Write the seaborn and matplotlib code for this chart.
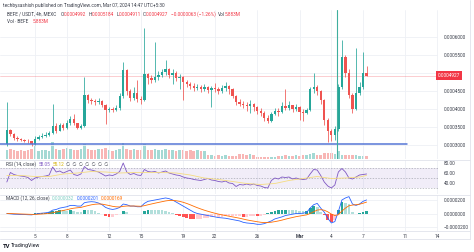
import numpy as np
import pandas as pd
import matplotlib
matplotlib.use("Agg")
import matplotlib.pyplot as plt
import matplotlib.dates as mdates
import matplotlib.transforms as mtransforms
from matplotlib.lines import Line2D
import seaborn as sns

# ---------------- data (prices in units of 1e-4 USDT) ----------------
start_time = "2024-02-02 08:00"
open0_e4 = 3.02
close_e4 = [3.42, 3.30, 3.20, 3.16, 3.14, 3.12, 3.10, 3.02, 3.16, 3.22,
            3.26, 3.28, 3.32, 3.52, 3.40, 3.55, 3.48, 3.62, 3.72, 3.60,
            3.48, 3.52, 4.40, 4.25, 4.22, 4.20, 4.22, 4.12, 3.98, 4.00,
            3.98, 4.02, 4.35, 5.08, 4.50, 4.30, 4.45, 4.28, 4.25, 4.96,
            4.85, 4.80, 4.88, 4.95, 5.02, 5.10, 4.95, 5.00, 4.85, 4.88,
            4.75, 4.70, 4.65, 4.58, 4.62, 4.55, 4.60, 4.52, 4.58, 4.55,
            4.50, 4.58, 4.64, 4.55, 4.35, 4.20, 4.15, 4.10, 4.08, 4.14,
            4.05, 3.95, 3.90, 3.75, 3.68, 3.85, 3.95, 3.92, 4.08, 4.02,
            4.10, 4.00, 4.05, 3.92, 3.88, 3.96, 4.55, 4.62, 4.50, 4.25,
            3.70, 3.40, 3.28, 3.45, 4.60, 5.45, 5.00, 4.40, 4.00, 4.45,
            4.62, 4.99, 4.927]
high_e4 = [4.20, 3.45, 3.32, 3.24, 3.20, 3.18, 3.16, 3.12, 3.24, 3.28,
           3.34, 3.36, 3.40, 4.14, 3.60, 3.62, 3.60, 3.70, 3.80, 3.86,
           3.62, 3.58, 4.90, 4.42, 4.30, 4.28, 4.30, 4.25, 4.15, 4.06,
           4.05, 4.10, 4.45, 5.30, 5.10, 4.55, 4.62, 4.80, 4.35, 6.25,
           5.00, 4.95, 5.86, 5.05, 5.12, 5.36, 5.15, 5.10, 5.05, 4.98,
           4.92, 4.80, 4.76, 4.72, 4.70, 4.66, 4.70, 4.64, 4.65, 4.72,
           4.62, 4.66, 4.74, 4.68, 4.58, 4.40, 4.28, 4.22, 4.20, 4.24,
           4.18, 4.08, 4.02, 3.95, 3.82, 3.92, 4.02, 4.02, 4.20, 4.55,
           4.22, 4.12, 4.14, 4.08, 4.00, 4.04, 4.62, 5.00, 4.66, 4.52,
           4.28, 3.75, 3.45, 3.52, 4.70, 5.92, 5.50, 5.10, 4.45, 5.70,
           4.75, 5.58, 5.184]
low_e4 = [2.98, 3.25, 3.15, 3.12, 3.10, 3.08, 3.05, 2.96, 3.00, 3.14,
          3.20, 3.22, 3.25, 3.30, 3.34, 3.38, 3.42, 3.45, 3.56, 3.55,
          3.44, 3.45, 3.50, 4.18, 4.15, 4.12, 4.14, 4.05, 3.58, 3.92,
          3.92, 3.95, 3.98, 4.30, 4.40, 4.22, 4.25, 4.20, 4.15, 4.22,
          4.70, 4.72, 4.75, 4.80, 4.90, 4.95, 4.85, 4.70, 4.78, 4.55,
          4.25, 4.60, 4.55, 4.50, 4.52, 4.46, 4.50, 4.45, 4.06, 4.48,
          4.42, 4.45, 4.50, 4.42, 4.30, 4.10, 4.08, 4.02, 3.95, 3.90,
          3.95, 3.86, 3.80, 3.66, 3.62, 3.64, 3.82, 3.80, 3.90, 3.96,
          3.98, 3.92, 3.94, 3.70, 3.66, 3.85, 3.94, 4.45, 4.40, 4.15,
          3.55, 3.08, 3.10, 3.15, 3.40, 4.55, 4.90, 4.30, 3.88, 3.98,
          4.38, 4.55, 4.911]
volume_m = [18, 20, 18, 16, 18, 16, 18, 20, 34, 16,
            18, 18, 16, 34, 20, 18, 20, 22, 20, 18,
            18, 20, 30, 20, 18, 18, 20, 20, 22, 18,
            16, 18, 20, 32, 20, 18, 20, 18, 18, 30,
            18, 18, 20, 18, 18, 20, 18, 18, 16, 18,
            18, 16, 18, 16, 18, 16, 16, 8, 8, 7,
            8, 7, 8, 6, 6, 6, 10, 10, 9, 10,
            8, 4, 4, 4, 5, 4, 4, 7, 7, 8,
            7, 7, 8, 7, 8, 8, 10, 12, 8, 8,
            12, 12, 12, 10, 16, 8, 8, 8, 8, 8,
            7, 7, 5.883]
rsi = [42, 61, 57, 55, 54, 53, 51, 45, 50, 52,
       53, 54, 56, 72, 62, 64, 60, 63, 66, 57,
       55, 58, 73, 67, 66, 64, 62, 58, 54, 56,
       55, 58, 63, 80, 62, 57, 59, 56, 55, 67,
       63, 62, 63, 60, 62, 64, 60, 58, 56, 55,
       52, 50, 49, 47, 46, 45, 47, 49, 46, 45,
       43, 42, 44, 40, 39, 33, 37, 36, 38, 36,
       38, 35, 34, 31, 30, 45, 50, 48, 52, 51,
       52, 48, 50, 48, 47, 48, 58, 67, 66, 55,
       42, 34, 30, 36, 62, 69, 62, 50, 48, 52,
       56, 57, 58.05]
rsi_ma_index = [0, 4, 8, 12, 16, 20, 24, 28, 32, 36, 40, 44, 48, 52,
                56, 60, 64, 68, 72, 76, 80, 84, 88, 92, 96, 100, 102]
rsi_ma = [55, 55, 53, 53, 58, 60, 63, 62, 60, 61, 61, 61, 60, 56,
          50, 47, 43, 39, 37, 39, 45, 49, 53, 49, 50, 52, 55.12]
# MACD values in units of 1e-6
macd_e6 = [0, -0.5, -1, -1.2, -1.5, -1.5, -1.8, -2, -1, 0,
           0.5, 1, 2, 5, 6, 8, 9, 10, 12, 12,
           11, 11, 16, 17, 17.5, 17, 15.5, 13, 9, 7,
           6, 7, 9, 14, 13, 11, 11, 10, 10, 15,
           18, 19, 20, 21, 22, 23, 22, 20, 17, 14,
           11, 8, 5, 2, 0, -1, -2, -3, -4, -5,
           -6, -6.5, -7, -8, -9, -10, -11, -13, -14, -14.5,
           -15, -16, -16, -15, -13, -11, -8, -6.5, -5, -3,
           -2, -1, 0, 0, 0.5, 1.5, 8, 13, 15, 8,
           2, -7, -14, -12, 3, 20, 23, 25, 14, 12,
           14, 18, 20.1]
signal_e6 = [0, 0, -0.3, -0.5, -0.7, -0.9, -1.1, -1.3, -1.3, -1.0,
             -0.7, -0.3, 0.2, 1.2, 2.2, 3.4, 4.5, 5.6, 6.9, 7.9,
             8.5, 9.0, 10.4, 11.7, 12.9, 13.7, 14.1, 13.9, 12.9, 11.8,
             10.6, 9.9, 9.7, 10.6, 11.1, 11.1, 11.1, 10.9, 10.7, 11.6,
             12.9, 14.1, 15.3, 16.4, 17.5, 18.6, 19.3, 19.4, 18.9, 18.0,
             16.6, 14.9, 12.9, 10.7, 8.6, 6.7, 4.9, 3.3, 1.8, 0.4,
             -0.9, -2.0, -3.0, -4.0, -5.0, -6.0, -7.0, -8.2, -9.4, -10.4,
             -11.3, -12.2, -13.0, -13.4, -13.3, -12.9, -12.0, -11.0, -9.8, -8.4,
             -7.1, -5.9, -4.7, -3.8, -2.9, -2.0, 0.0, 2.6, 5.1, 5.7,
             4.9, 2.5, -0.8, -3.0, -1.8, 3.5, 8.0, 11.5, 12.5, 13.0,
             13.8, 15.2, 16.9]

tick_dates = ["2024-02-05", "2024-02-08", "2024-02-12", "2024-02-15",
              "2024-02-19", "2024-02-22", "2024-02-26", "2024-03-01",
              "2024-03-04", "2024-03-07", "2024-03-11", "2024-03-14"]
tick_labels = ["5", "8", "12", "15", "19", "22", "26", "Mar", "4", "7", "11", "14"]
price_ticks_e4 = [3.0, 3.5, 4.0, 4.5, 5.0, 5.5, 6.0]
rsi_ticks = [80, 60, 40]
macd_ticks_e6 = [20, 0, -20]
support_e4 = 3.03
support_end = "2024-03-11 04:00"
marker_time = "2024-03-04 12:30"
last_price_e4 = 4.927
x_range = ("2024-02-01 16:30", "2024-03-14 02:00")

# ---------------- style ----------------
sns.set_theme(style="white")
plt.rcParams['font.family'] = ['Roboto', 'DejaVu Sans']
UP, DOWN = '#26a69a', '#ef5350'
GRID = '#eef0f5'
TXT = '#3a3e4a'
FS = 3.4

W, H = 474, 252
fig = plt.figure(figsize=(W / 100, H / 100), dpi=100)
fig.patch.set_facecolor('white')


def box(x0, y0, x1, y1):
    return [x0 / W, 1 - y1 / H, (x1 - x0) / W, (y1 - y0) / H]


ax = fig.add_axes(box(0, 10, 438, 159))
axv = ax.twinx()
ax_rsi = fig.add_axes(box(0, 160, 438, 194), sharex=ax)
ax_macd = fig.add_axes(box(0, 195, 438, 231), sharex=ax)

times = pd.date_range(start_time, periods=len(close_e4), freq="8h")
xs = mdates.date2num(times)
close = np.array(close_e4)
opens = np.array([open0_e4] + close_e4[:-1])
high = np.array(high_e4)
low = np.array(low_e4)
up = close >= opens
cols = np.where(up, UP, DOWN)

xmin, xmax = mdates.date2num(pd.to_datetime(list(x_range)))
tick_x = mdates.date2num(pd.to_datetime(tick_dates))

for a in (ax, axv, ax_rsi, ax_macd):
    for s in a.spines.values():
        s.set_visible(False)
    a.set_facecolor('none')

# ---- volume (behind candles)
axv.set_zorder(1)
ax.set_zorder(2)
axv.bar(xs, volume_m, width=0.24, color=cols, alpha=0.42, linewidth=0)
axv.set_ylim(0, 298)
axv.set_yticks([])

# ---- grid
for a in (ax, ax_rsi, ax_macd):
    for t in tick_x:
        a.axvline(t, color=GRID, lw=0.6, zorder=0)
for p in price_ticks_e4:
    ax.axhline(p, color=GRID, lw=0.6, zorder=0)
for m in macd_ticks_e6:
    ax_macd.axhline(m, color=GRID, lw=0.6, zorder=0)

# ---- candles
ax.vlines(xs, low, high, colors=cols, lw=0.55, zorder=3)
body_h = np.maximum(np.abs(close - opens), 0.012)
ax.bar(xs, body_h, bottom=np.minimum(close, opens), width=0.22,
       color=cols, linewidth=0, zorder=4)

# annotations
sx = mdates.date2num(pd.Timestamp(support_end))
ax.plot([xmin, sx], [support_e4, support_e4], color='#5677d6', lw=1.1, zorder=5)
ax.axvline(mdates.date2num(pd.Timestamp(marker_time)), color='#3fae9e', lw=0.8, zorder=5)
ax.axhline(last_price_e4, color='#f23645', lw=0.5, alpha=0.35, zorder=2)

ax.set_xlim(xmin, xmax)
ax.set_ylim(3.0 + (145 - 159) * 0.02778, 3.0 + (145 - 10) * 0.02778)
ax.yaxis.tick_right()
ax.set_yticks(price_ticks_e4)
# the 0.0005000 label sits under the last-price badge, as in the reference
ax.set_yticklabels(["" if abs(p - last_price_e4) < 0.2 else f"{p * 1e-4:.7f}"
                    for p in price_ticks_e4])
ax.tick_params(axis='y', length=0, pad=4, labelsize=FS, labelcolor=TXT)
ax.tick_params(axis='x', labelbottom=False, length=0)

trans = mtransforms.blended_transform_factory(ax.transAxes, ax.transData)
ax.text(1.0, last_price_e4, f"{last_price_e4 * 1e-4:.7f}", transform=trans,
        ha='left', va='center', fontsize=FS, color='white', zorder=10,
        bbox=dict(boxstyle='square,pad=0.35', fc='#f23645', ec='none'))

# ---- RSI pane
ax_rsi.axhspan(30, 70, color='#7e57c2', alpha=0.1, lw=0)
for lv in (70, 50, 30):
    ax_rsi.axhline(lv, color='#9598a1', lw=0.5, ls=(0, (2, 2)), alpha=0.8)
sns.lineplot(x=xs, y=rsi, ax=ax_rsi, color='#7e57c2', lw=0.6)
sns.lineplot(x=xs[rsi_ma_index], y=rsi_ma, ax=ax_rsi, color='#f5dc80', lw=0.6)
ax_rsi.set_ylim(18, 86)
ax_rsi.yaxis.tick_right()
ax_rsi.set_yticks(rsi_ticks)
ax_rsi.set_yticklabels([f"{v:.2f}" for v in rsi_ticks])
ax_rsi.tick_params(axis='y', length=0, pad=4, labelsize=FS, labelcolor=TXT)
ax_rsi.tick_params(axis='x', labelbottom=False, length=0)

# ---- MACD pane
macd = np.array(macd_e6)
sig = np.array(signal_e6)
hist = macd - sig
hcols = []
for i, h in enumerate(hist):
    prev = hist[i - 1] if i > 0 else 0
    if h >= 0:
        hcols.append('#26a69a' if h >= prev else '#b2dfdb')
    else:
        hcols.append('#ff5252' if h < prev else '#ffcdd2')
ax_macd.bar(xs, hist, width=0.26, color=hcols, linewidth=0)
sns.lineplot(x=xs, y=macd, ax=ax_macd, color='#2962ff', lw=0.6)
sns.lineplot(x=xs, y=sig, ax=ax_macd, color='#ff6d00', lw=0.6)
ax_macd.set_ylim(-25.9, 27.4)
ax_macd.yaxis.tick_right()
ax_macd.set_yticks(macd_ticks_e6)
ax_macd.set_yticklabels([(f"{v * 1e-6:.7f}").replace('-', '\u2212') for v in macd_ticks_e6])
ax_macd.tick_params(axis='y', length=0, pad=4, labelsize=FS, labelcolor=TXT)
ax_macd.set_xticks(tick_x)
ax_macd.set_xticklabels(tick_labels)
ax_macd.tick_params(axis='x', length=0, pad=2.2, labelsize=FS, labelcolor=TXT)
for lab in ax_macd.get_xticklabels():
    if lab.get_text() == "Mar":
        lab.set_fontweight('bold')
ax_macd.set_xlim(xmin, xmax)
for a in (ax_rsi, ax_macd):
    a.set_xlabel('')
    a.set_ylabel('')

# ---- separators / frame
for yy in (159.5, 194.5, 231):
    fig.add_artist(Line2D([0, 470 / W], [1 - yy / H] * 2, color='#e0e3eb', lw=0.6))
fig.add_artist(Line2D([470 / W] * 2, [1 - 239 / H, 1], color='#e0e3eb', lw=0.6))
fig.add_artist(Line2D([0, 470 / W], [1 - 239 / H] * 2, color='#e0e3eb', lw=0.6))

# ---- header texts
renderer = fig.canvas.get_renderer()


def seq_text(x_px, y_px, parts, size=FS, gap=2.2):
    x = x_px / W
    for s, c in parts:
        if s == "":
            x += gap / W
            continue
        t = fig.text(x, 1 - y_px / H, s, color=c, fontsize=size, ha='left', va='center')
        bb = t.get_window_extent(renderer=renderer)
        x += bb.width / W


RED = '#f23645'
fig.text(3 / W, 1 - 5 / H, "techbysashish published on TradingView.com, Mar 07, 2024 14:47 UTC+5:30",
         fontsize=FS, color=TXT, ha='left', va='center')
seq_text(7, 14.5, [("BEFE / USDT, 4h, MEXC", TXT), ("", None), ("", None),
                   ("O", TXT), ("0.0004992", RED), ("", None),
                   ("H", TXT), ("0.0005184", RED), ("", None),
                   ("L", TXT), ("0.0004911", RED), ("", None),
                   ("C", TXT), ("0.0004927", RED), ("", None),
                   ("\u22120.0000063 (\u22121.26%)", RED), ("", None),
                   ("Vol", TXT), ("5.883M", RED)])
seq_text(7, 21.5, [("Vol \u00b7 BEFE", TXT), ("", None), ("", None), ("5.883M", RED)])
seq_text(6, 164.5, [("RSI (14, close)", TXT), ("", None), ("58.05", '#7e57c2'), ("", None),
                    ("55.12", '#d4b000'), ("", None),
                    ("\u2205  \u2205  \u2205  \u2205  \u2205  \u2205  \u2205", TXT)])
seq_text(6, 198.5, [("MACD (12, 26, close)", TXT), ("", None), ("0.0000032", '#7fcfc4'), ("", None),
                    ("0.0000201", '#2962ff'), ("", None), ("0.0000169", '#ff6d00')])
fig.text(3 / W, 1 - 246 / H, "TV", fontsize=4.2, fontweight='bold', color='#131722',
         ha='left', va='center')
fig.text(11 / W, 1 - 246 / H, "TradingView", fontsize=3.8, color='#131722',
         ha='left', va='center')

fig.savefig("out.png", dpi=100, facecolor='white')
